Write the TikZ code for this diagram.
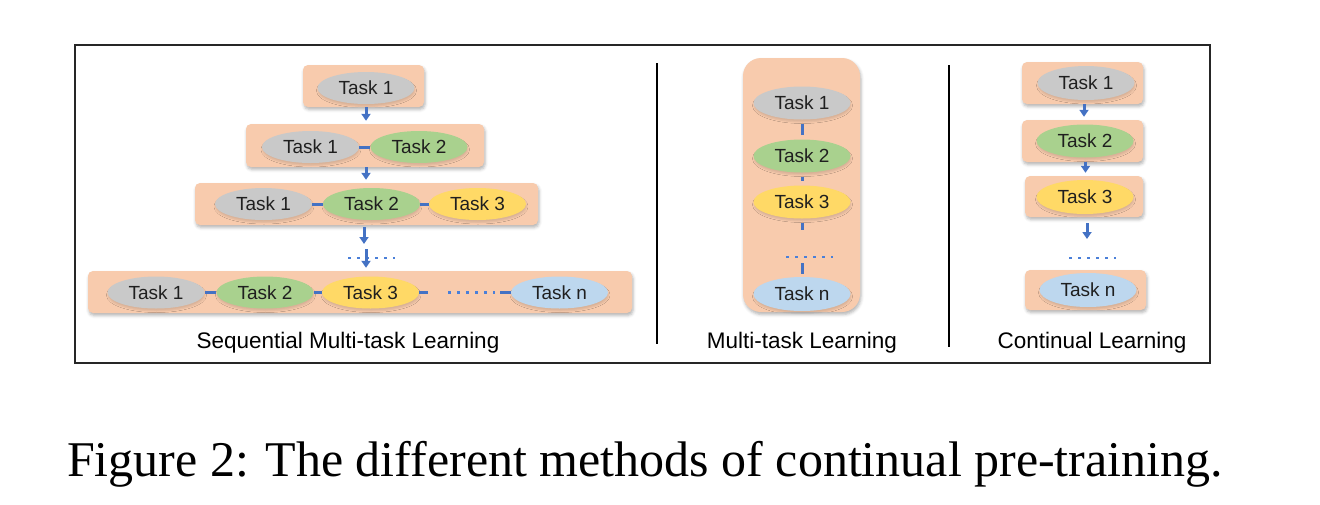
\documentclass[tikz,border=0pt]{standalone}
\usepackage{fontspec}
\setmainfont{Liberation Serif}
\setsansfont{Liberation Sans}
\usetikzlibrary{shapes.geometric,arrows.meta,shadows.blur}
\definecolor{peach}{HTML}{F8CBAD}
\definecolor{tgray}{HTML}{C9C9C9}
\definecolor{tgreen}{HTML}{A9D18E}
\definecolor{tyellow}{HTML}{FFD966}
\definecolor{tblue}{HTML}{BDD7EE}
\definecolor{conn}{HTML}{4472C4}
\definecolor{dotc}{HTML}{4A7FD8}
\tikzset{
  panel/.style={fill=peach, rounded corners=5pt, inner sep=0pt,
    blur shadow={shadow xshift=1pt, shadow yshift=-2.5pt, shadow blur radius=3pt, shadow opacity=30}},
  task/.style={ellipse, minimum width=97pt, minimum height=32pt, inner sep=0pt,
    font=\sffamily\fontsize{19}{21}\selectfont, text=black!88,
    blur shadow={shadow xshift=0.5pt, shadow yshift=-2.5pt, shadow blur radius=1.5pt, shadow opacity=12}},
  link/.style={conn, line width=3pt},
  vlink/.style={link, shorten <=4pt, shorten >=4pt},
  flow/.style={conn, line width=3pt, -{Triangle[width=9pt,length=7pt]}},
  dotline/.style={dotc, line width=2.8pt, dash pattern=on 2.8pt off 6.2pt},
  lbl/.style={font=\sffamily\fontsize{22.5}{25}\selectfont, text=black, inner sep=0pt},
  divider/.style={black, line width=2pt}
}
\begin{document}
\begin{tikzpicture}[x=1pt,y=-1pt]
\useasboundingbox (0,0) rectangle (1320,504);
% frame
\draw[black!85, line width=1.6pt] (75,45) rectangle (1210,363);
\draw[divider] (657,63) -- (657,344);
\draw[divider] (949,65) -- (949,347);

% ---------- Sequential multi-task learning ----------
\node[panel, minimum width=121pt, minimum height=42pt] (b1) at (363.5,86) {};
\node[task, fill=tgray] (a1) at (366,88) {Task 1};

\node[panel, minimum width=238pt, minimum height=43pt] (b2) at (365,145.5) {};
\node[task, fill=tgray] (a21) at (310.5,147) {Task 1};
\node[task, fill=tgreen] (a22) at (419,147) {Task 2};
\draw[link] (a21.east) -- (a22.west);

\node[panel, minimum width=343pt, minimum height=42pt] (b3) at (366.5,204) {};
\node[task, fill=tgray] (a31) at (263.5,204) {Task 1};
\node[task, fill=tgreen] (a32) at (371.5,204) {Task 2};
\node[task, fill=tyellow] (a33) at (477.5,204) {Task 3};
\draw[link] (a31.east) -- (a32.west);
\draw[link] (a32.east) -- (a33.west);

\node[panel, minimum width=544pt, minimum height=42pt] (b4) at (360,292) {};
\node[task, fill=tgray] (a41) at (156,292.5) {Task 1};
\node[task, fill=tgreen] (a42) at (265,292.5) {Task 2};
\node[task, fill=tyellow] (a43) at (370.5,292.5) {Task 3};
\node[task, fill=tblue] (a4n) at (559.5,292.5) {Task n};
\coordinate (s1) at (428,292.5);
\coordinate (s2) at (500,292.5);
\draw[link] (a41.east) -- (a42.west);
\draw[link] (a42.east) -- (a43.west);
\draw[link] (a43.east) -- (s1);
\draw[link] (s2) -- (a4n.west);
\draw[dotline] (448,292.5) -- (495,292.5);

\draw[flow, shorten >=3pt] ([xshift=2.5pt]b1.south) -- ([xshift=1pt]b2.north);
\draw[flow, shorten >=3pt] ([xshift=1pt]b2.south) -- ([xshift=-0.5pt]b3.north);
\coordinate (q1) at (364,244);
\coordinate (q2) at (366,249);
\draw[flow, shorten <=2pt] ([xshift=-2.5pt]b3.south) -- (q1);
\draw[dotline] (348,258) -- (395,258);
\draw[flow, shorten >=3pt] (q2) -- (b4.north -| q2);
\node[lbl] (l1) at (348,343) {Sequential Multi-task Learning};

% ---------- Multi-task learning ----------
\node[panel, rounded corners=18pt, minimum width=117pt, minimum height=254pt] (mb) at (801.5,185) {};
\node[task, fill=tgray, minimum height=33pt] (m1) at (802,103) {Task 1};
\node[task, fill=tgreen, minimum height=33pt] (m2) at (802,156) {Task 2};
\node[task, fill=tyellow, minimum height=33pt] (m3) at (802,202) {Task 3};
\node[task, fill=tblue, minimum height=34pt] (mn) at (802,294) {Task n};
\coordinate (mc1) at (802,230);
\coordinate (mc2) at (802,263);
\draw[vlink] (m1.south) -- (m2.north);
\draw[vlink] (m2.south) -- (m3.north);
\draw[link, shorten <=4pt] (m3.south) -- (mc1);
\draw[link, shorten >=3pt] (mc2) -- (mn.north);
\draw[dotline] (786,257) -- (833,257);
\node[lbl] (l2) at (802,343) {Multi-task Learning};

% ---------- Continual learning ----------
\node[panel, minimum width=121pt, minimum height=42pt] (r1) at (1082.5,83) {};
\node[task, fill=tgray, minimum height=34pt] (c1) at (1086,83) {Task 1};
\node[panel, minimum width=121pt, minimum height=42pt] (r2) at (1082.5,141) {};
\node[task, fill=tgreen, minimum height=33pt] (c2) at (1085,141) {Task 2};
\node[panel, minimum width=118pt, minimum height=41pt] (r3) at (1084,196.5) {};
\node[task, fill=tyellow, minimum height=34pt] (c3) at (1085,197) {Task 3};
\node[panel, minimum width=121pt, minimum height=40pt] (r4) at (1085.5,290) {};
\node[task, fill=tblue, minimum height=34pt] (cn) at (1088,290) {Task n};
\draw[flow, shorten >=3pt] ([xshift=1.5pt]r1.south) -- ([xshift=1.5pt]r1.south |- r2.north);
\draw[flow, shorten >=3pt] ([xshift=3pt]r2.south) -- ([xshift=3pt]r2.south |- r3.north);
\coordinate (cc1) at (1087,239);
\draw[flow, shorten <=6pt] (r3.south -| cc1) -- (cc1);
\draw[dotline] (1069,258) -- (1116,258);
\node[lbl] (l3) at (1092,343) {Continual Learning};

% caption
\node[anchor=base, inner sep=0pt, font=\fontsize{50}{55}\selectfont] (cap) at (645,476) {Figure 2: The different methods of continual pre-training.};
\end{tikzpicture}
\end{document}
